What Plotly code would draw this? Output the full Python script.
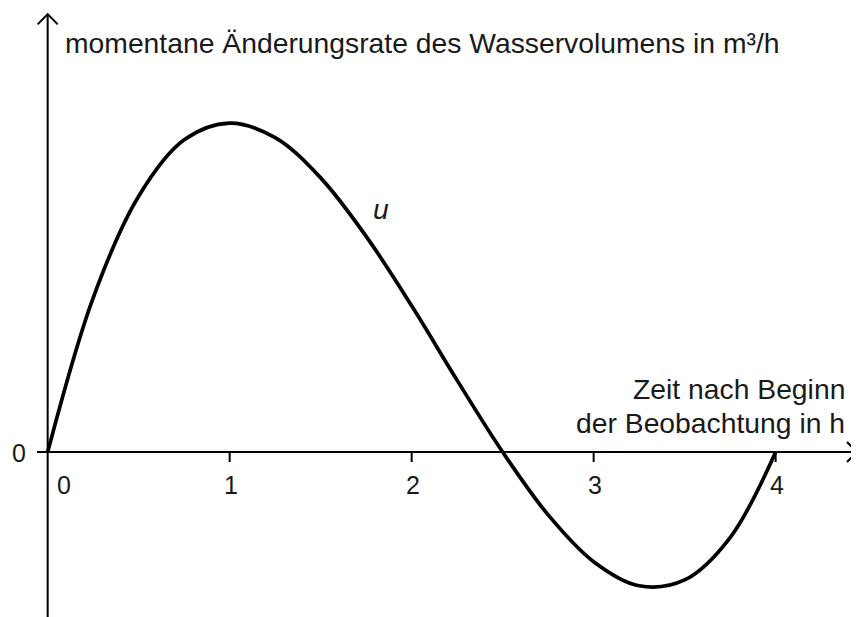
import plotly.graph_objects as go

# Values (time in h, rate in arbitrary units)
t_vals = [0, 0.25, 0.5, 0.75, 1.0, 1.25, 1.5, 1.75, 2.0, 2.25, 2.5,
          2.75, 3.0, 3.25, 3.5, 3.75, 4.0]
u_vals = [0, 2.11, 3.5, 4.27, 4.5, 4.3, 3.75, 2.95, 2.0, 0.98, 0,
          -0.86, -1.5, -1.83, -1.75, -1.17, 0]
x_ticks = [0, 1, 2, 3, 4]
x_tick_labels = ["0", "1", "2", "3", "4"]

# page body has an 8px margin, so the figure is 8px smaller than the window
X_MIN, X_MAX = -0.218, 4.458
Y_MIN, Y_MAX = -2.257, 6.074
INK = "#1a1a1a"
FONT = "Liberation Sans"
TXT = 28.3

fig = go.Figure()
fig.add_trace(go.Scatter(
    x=t_vals, y=u_vals, mode="lines",
    line=dict(color="black", width=3.7, shape="spline"),
    hoverinfo="skip", showlegend=False
))

axis_line = dict(color="black", width=2)
shapes = [
    # y axis
    dict(type="line", x0=0, x1=0, y0=Y_MIN, y1=5.99, line=axis_line),
    # x axis
    dict(type="line", x0=-0.058, x1=4.447, y0=0, y1=0, line=axis_line),
    # arrow heads (open chevrons)
    dict(type="path", path="M -0.055 5.85 L 0 5.99 L 0.055 5.85", line=axis_line),
    dict(type="path", path="M 4.392 0.137 L 4.447 0 L 4.392 -0.137", line=axis_line),
]
for t in x_ticks[1:]:
    shapes.append(dict(type="line", x0=t, x1=t, y0=0, y1=-0.137, line=axis_line))

annotations = []
for t, lab in zip(x_ticks, x_tick_labels):
    annotations.append(dict(
        x=t + (0.09 if t == 0 else 0.005), y=-0.45, text=lab, showarrow=False,
        font=dict(family=FONT, size=25, color=INK), xanchor="center", yanchor="middle"
    ))
annotations += [
    dict(x=-0.16, y=-0.02, text="0", showarrow=False,
         font=dict(family=FONT, size=25, color=INK), xanchor="center", yanchor="middle"),
    dict(x=0.085, y=5.6, text="momentane Änderungsrate des Wasservolumens in m³/h",
         showarrow=False, font=dict(family=FONT, size=TXT, color=INK),
         xanchor="left", yanchor="middle"),
    dict(x=4.39, y=0.86, text="Zeit nach Beginn", showarrow=False,
         font=dict(family=FONT, size=TXT, color=INK), xanchor="right", yanchor="middle"),
    dict(x=4.39, y=0.40, text="der Beobachtung in h", showarrow=False,
         font=dict(family=FONT, size=TXT, color=INK), xanchor="right", yanchor="middle"),
    dict(x=1.83, y=3.33, text="u", showarrow=False,
         font=dict(family=FONT, size=TXT, color=INK, style="italic"),
         xanchor="center", yanchor="middle"),
]

fig.update_layout(
    width=851, height=609,
    margin=dict(l=0, r=0, t=0, b=0),
    plot_bgcolor="white", paper_bgcolor="white",
    xaxis=dict(range=[X_MIN, X_MAX], visible=False, fixedrange=True),
    yaxis=dict(range=[Y_MIN, Y_MAX], visible=False, fixedrange=True),
    shapes=shapes, annotations=annotations,
)

fig.write_html("out.html")
